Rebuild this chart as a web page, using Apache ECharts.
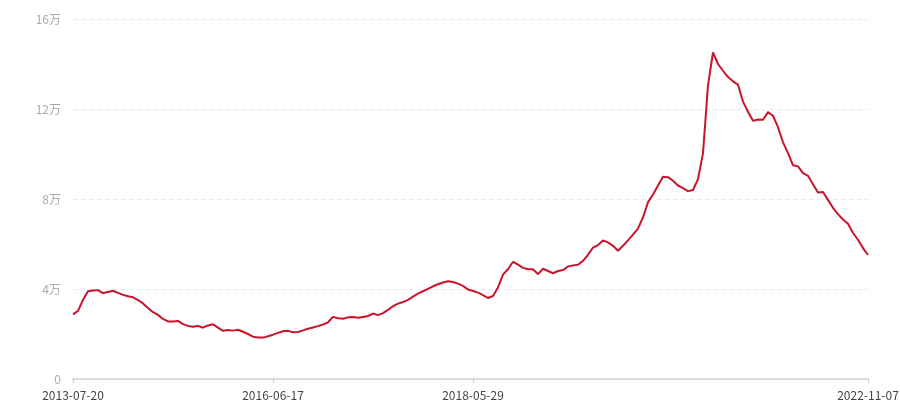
<!DOCTYPE html>
<html>
<head>
<meta charset="utf-8">
<script src="https://cdn.jsdelivr.net/npm/echarts@6/dist/echarts.min.js"></script>
<style>html,body{margin:0;padding:0;background:#fff}#c{width:900px;height:400px}</style>
</head>
<body>
<div id="c"></div>
<script>
// series values (one per category position)
const values = [
28700,30300,35200,39000,39300,39500,38200,38700,39200,38300,
37400,36800,36300,35100,33600,31600,29700,28500,26700,25600,
25600,25800,24400,23600,23200,23600,22800,23800,24300,22800,
21400,21800,21500,21900,21000,20000,18800,18400,18400,19000,
19700,20500,21200,21400,20800,20900,21600,22300,22900,23500,
24200,25200,27600,27000,26800,27400,27600,27200,27600,28000,
29100,28400,29300,30700,32400,33500,34200,35200,36600,37900,
39000,40100,41200,42100,42900,43400,43100,42400,41400,39800,
39100,38400,37300,36000,36900,40700,46400,48800,52100,50800,
49400,48800,48800,46600,49000,48000,47000,48000,48400,50000,
50500,50800,52500,55200,58400,59500,61600,60700,59200,57000,
59200,61600,64200,66800,71800,78600,82000,86000,89900,89700,
88100,86000,84800,83500,84000,88800,100400,130500,145200,140000,
137000,134200,132300,130800,123300,118800,114800,115300,115200,118600,
117000,111900,105200,100400,95000,94500,91500,90300,86600,82900,
83100,79600,76100,73300,70900,69000,64900,61900,58200,55100
];
// tick labels and the category positions they sit at
const tickLabels = ['2013-07-20', '2016-06-17', '2018-05-29', '2022-11-07'];
const tickIndex = [0, 40, 80, 159];
const yTicks = [0, 40000, 80000, 120000, 160000];

const categories = values.map((v, i) => {
  const k = tickIndex.indexOf(i);
  return k >= 0 ? tickLabels[k] : '';
});
const showIdx = (i) => tickIndex.indexOf(i) >= 0;

const chart = echarts.init(document.getElementById('c'), null, {renderer: 'canvas'});
chart.setOption({
  animation: false,
  grid: {left: 73, right: 32, top: 19, bottom: 21, containLabel: false, outerBoundsMode: 'none'},
  xAxis: {
    type: 'category',
    data: categories,
    boundaryGap: false,
    axisLine: {show: true, lineStyle: {color: '#dcdcdc', width: 2}},
    axisTick: {show: true, interval: (i) => showIdx(i), length: 4, lineStyle: {color: '#cccccc'}},
    axisLabel: {
      interval: (i) => showIdx(i), color: '#444', fontSize: 12, margin: 10,
      fontFamily: 'Noto Sans CJK SC, sans-serif', showMaxLabel: true, showMinLabel: true
    },
    splitLine: {show: false}
  },
  yAxis: {
    type: 'value',
    min: yTicks[0], max: yTicks[yTicks.length - 1], interval: 40000,
    axisLine: {show: false},
    axisTick: {show: false},
    axisLabel: {
      color: '#aaaaaa', fontSize: 12, margin: 12,
      fontFamily: 'Noto Sans CJK SC, sans-serif',
      formatter: (v) => v === 0 ? '0' : (v / 10000) + '万'
    },
    splitLine: {show: true, lineStyle: {color: '#e8e8e8', type: [4, 4], width: 1}}
  },
  series: [{
    type: 'line',
    data: values,
    showSymbol: false,
    symbol: 'none',
    lineStyle: {color: '#c8142c', width: 2},
    itemStyle: {color: '#c8142c'}
  }]
});
</script>
</body>
</html>
